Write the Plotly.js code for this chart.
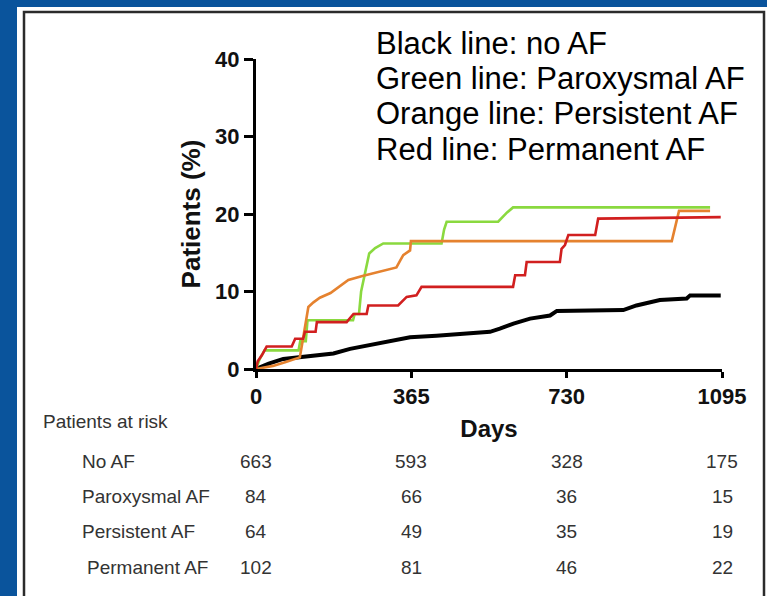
<!DOCTYPE html>
<html>
<head>
<meta charset="utf-8">
<script src="https://cdn.plot.ly/plotly-3.0.1.min.js"></script>
<style>
  html, body { margin: 0; padding: 0; background: #0a549c; }
  #chart { width: 767px; height: 596px; }
</style>
</head>
<body>
<div id="chart"></div>
<script>
// Cumulative incidence (%) by AF type, read as step vertices (days, percent)
const noAFDays = [0, 30, 64, 103, 143, 182, 221, 260, 299, 362, 424, 495, 550, 573, 605, 644, 691, 707, 863, 894, 949, 1012, 1020, 1092];
const noAFPct  = [0, 0.7, 1.3, 1.5, 1.75, 2.0, 2.6, 3.0, 3.5, 4.1, 4.3, 4.55, 4.8, 5.2, 5.85, 6.5, 6.9, 7.5, 7.6, 8.2, 8.9, 9.1, 9.5, 9.5];

const paroxDays = [0, 8, 20, 100, 104, 117, 121, 228, 232, 242, 247, 256, 266, 280, 299, 436, 442, 448, 569, 590, 604, 1067];
const paroxPct  = [0, 1.2, 2.4, 2.4, 3.6, 3.6, 6.3, 6.3, 7.1, 7.1, 10.0, 12.5, 14.9, 15.6, 16.2, 16.2, 18.0, 19.0, 19.0, 20.2, 20.85, 20.85];

const persDays = [0, 40, 70, 103, 108, 118, 123, 135, 150, 175, 200, 217, 250, 280, 310, 330, 340, 346, 362, 364, 977, 994, 1067];
const persPct  = [0, 0.4, 0.9, 1.5, 3.1, 6.3, 8.0, 8.6, 9.2, 9.8, 10.8, 11.5, 12.0, 12.4, 12.8, 13.1, 14.1, 14.7, 15.3, 16.5, 16.5, 20.4, 20.4];

const permDays = [0, 4, 14, 25, 84, 92, 111, 115, 140, 143, 213, 229, 260, 264, 334, 354, 377, 389, 604, 609, 632, 636, 714, 718, 726, 734, 797, 804, 1092];
const permPct  = [0, 1.0, 1.8, 2.9, 2.9, 3.9, 3.9, 4.8, 4.8, 6.05, 6.05, 7.1, 7.1, 8.2, 8.2, 9.3, 9.5, 10.6, 10.6, 12.1, 12.1, 13.8, 13.8, 15.5, 16.0, 17.3, 17.3, 19.4, 19.6];

// Axis ticks
const xTicks = [0, 365, 730, 1095];
const yTicks = [0, 10, 20, 30, 40];

// Patients-at-risk table
const riskGroups = ['No AF', 'Paroxysmal AF', 'Persistent AF', 'Permanent AF'];
const riskNoAF  = [663, 593, 328, 175];
const riskParox = [84, 66, 36, 15];
const riskPers  = [64, 49, 35, 19];
const riskPerm  = [102, 81, 46, 22];

// Key text
const keyLines = ['Black line: no AF', 'Green line: Paroxysmal AF', 'Orange line: Persistent AF', 'Red line: Permanent AF'];

// ---- layout geometry (pixels) ----
const W = 767, H = 596;
const M = { l: 256, r: 45, t: 59, b: 227 };
const plotW = W - M.l - M.r, plotH = H - M.t - M.b;
const fx = px => (px - M.l) / plotW;
const fy = py => (H - M.b - py) / plotH;

const FONT = 'Liberation Sans, Arial, Helvetica, sans-serif';

const traces = [
  { x: noAFDays, y: noAFPct, name: 'No AF', line: { color: '#000000', width: 4 } },
  { x: paroxDays, y: paroxPct, name: 'Paroxysmal AF', line: { color: '#8ad93f', width: 2.6 } },
  { x: persDays, y: persPct, name: 'Persistent AF', line: { color: '#e5822f', width: 2.6 } },
  { x: permDays, y: permPct, name: 'Permanent AF', line: { color: '#d11f1f', width: 2.6 } }
].map(t => Object.assign({ type: 'scatter', mode: 'lines', hoverinfo: 'skip' }, t));

const annotations = [];

// key lines
const keyY = [43, 78.5, 114, 149.5];
keyLines.forEach((txt, i) => {
  annotations.push({
    xref: 'paper', yref: 'paper', x: fx(374), y: fy(keyY[i]),
    xanchor: 'left', yanchor: 'middle', showarrow: false,
    text: txt, font: { family: FONT, size: 31, color: '#000' }
  });
});

// risk table
const TABLE_FONT = { family: FONT, size: 19, color: '#333' };
annotations.push({
  xref: 'paper', yref: 'paper', x: fx(41), y: fy(421),
  xanchor: 'left', yanchor: 'middle', showarrow: false,
  text: 'Patients at risk', font: TABLE_FONT
});
const rowY = [461, 496, 531, 567];
const labelX = [80, 80, 80, 85];
const rows = [riskNoAF, riskParox, riskPers, riskPerm];
riskGroups.forEach((g, i) => {
  annotations.push({
    xref: 'paper', yref: 'paper', x: fx(labelX[i]), y: fy(rowY[i]),
    xanchor: 'left', yanchor: 'middle', showarrow: false,
    text: g, font: TABLE_FONT
  });
  rows[i].forEach((n, j) => {
    annotations.push({
      xref: 'x', yref: 'paper', x: xTicks[j], y: fy(rowY[i]),
      xanchor: 'center', yanchor: 'middle', showarrow: false,
      text: String(n), font: TABLE_FONT
    });
  });
});

const shapes = [
  // white panel
  { type: 'rect', xref: 'paper', yref: 'paper', layer: 'below',
    x0: fx(17), x1: fx(770), y0: fy(7), y1: fy(600),
    fillcolor: '#ffffff', line: { width: 0 } },
  // dark frame
  { type: 'rect', xref: 'paper', yref: 'paper', layer: 'below',
    x0: fx(24), x1: fx(764), y0: fy(12), y1: fy(605),
    fillcolor: 'rgba(0,0,0,0)', line: { color: '#2b2b2b', width: 2.5 } }
];

const layout = {
  width: W, height: H,
  margin: M,
  paper_bgcolor: '#0a549c',
  plot_bgcolor: 'rgba(0,0,0,0)',
  showlegend: false,
  xaxis: {
    range: [0, 1095], tickvals: xTicks, ticktext: xTicks.map(String),
    showgrid: false, zeroline: false, showline: true, linecolor: '#000', linewidth: 3,
    ticks: 'outside', ticklen: 6, tickwidth: 3, tickcolor: '#000',
    tickfont: { family: FONT, size: 22, weight: 'bold', color: '#111' },
    ticklabelstandoff: 0,
    title: { text: 'Days', standoff: 12, font: { family: FONT, size: 24, weight: 'bold', color: '#111' } },
    automargin: false, fixedrange: true
  },
  yaxis: {
    range: [0, 40], tickvals: yTicks,
    showgrid: false, zeroline: false, showline: true, linecolor: '#000', linewidth: 3,
    ticks: 'outside', ticklen: 9, tickwidth: 3, tickcolor: '#000',
    tickfont: { family: FONT, size: 22, weight: 'bold', color: '#111' },
    title: { text: 'Patients (%)', standoff: 8, font: { family: FONT, size: 26, weight: 'bold', color: '#111' } },
    automargin: false, fixedrange: true
  },
  annotations: annotations,
  shapes: shapes
};

Plotly.newPlot('chart', traces, layout, { displayModeBar: false, staticPlot: true });
</script>
</body>
</html>
